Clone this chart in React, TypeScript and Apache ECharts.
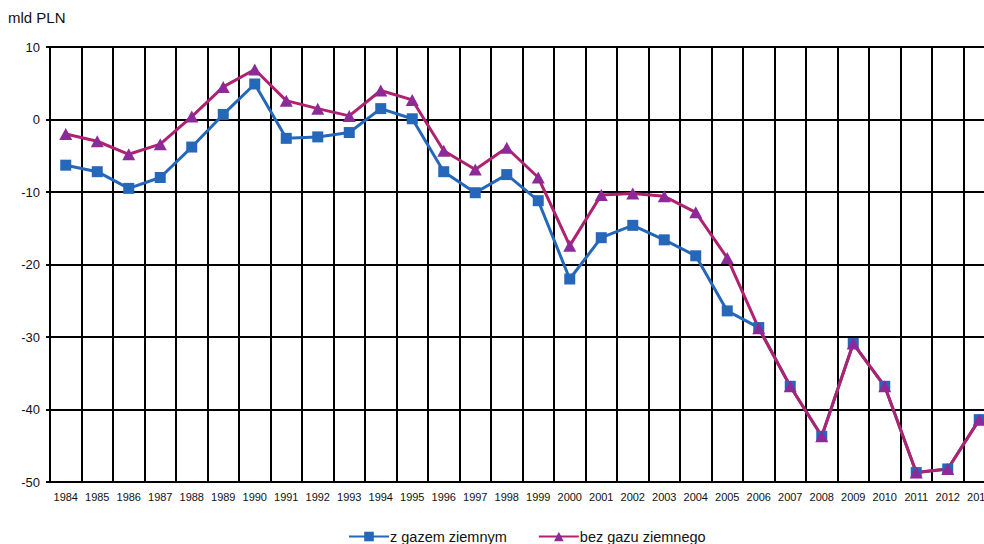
import React, { useEffect, useRef } from "react";
import * as echarts from "echarts";

const years = [
  "1984", "1985", "1986", "1987", "1988", "1989", "1990", "1991", "1992", "1993",
  "1994", "1995", "1996", "1997", "1998", "1999", "2000", "2001", "2002", "2003",
  "2004", "2005", "2006", "2007", "2008", "2009", "2010", "2011", "2012", "2013",
];

const zGazem = [
  -6.3, -7.2, -9.5, -8.0, -3.8, 0.7, 4.9, -2.6, -2.4, -1.8,
  1.5, 0.1, -7.2, -10.1, -7.6, -11.2, -22.0, -16.3, -14.6, -16.6,
  -18.8, -26.4, -28.7, -36.8, -43.7, -30.9, -36.8, -48.7, -48.2, -41.4,
];

const bezGazu = [
  -2.0, -3.0, -4.8, -3.4, 0.4, 4.5, 6.9, 2.6, 1.5, 0.5,
  4.0, 2.7, -4.3, -6.9, -3.9, -8.0, -17.4, -10.4, -10.2, -10.6,
  -12.8, -19.1, -28.8, -36.8, -43.7, -30.9, -36.8, -48.7, -48.2, -41.4,
];

const seriesNames = ["z gazem ziemnym", "bez gazu ziemnego"];
const unitLabel = "mld PLN";

export default function App() {
  const ref = useRef<HTMLDivElement>(null);

  useEffect(() => {
    if (!ref.current) return;
    const chart = echarts.init(ref.current, null, { renderer: "svg" });
    const font = "Liberation Sans, Arial, sans-serif";
    chart.setOption({
      animation: false,
      backgroundColor: "#ffffff",
      textStyle: { fontFamily: font },
      graphic: [
        {
          type: "text",
          left: 8,
          top: 10,
          style: { text: unitLabel, font: "15px " + font, fill: "#111" },
        },
      ],
      legend: {
        left: 343,
        top: 524,
        itemWidth: 40,
        itemHeight: 12,
        itemGap: 31,
        textStyle: { fontSize: 14.5, color: "#111", fontFamily: font, padding: [0, 0, 0, -4] },
        data: seriesNames,
      },
      grid: { left: 50, top: 47, width: 945, height: 435, containLabel: false },
      xAxis: {
        type: "category",
        data: years,
        boundaryGap: true,
        axisLine: { show: true, lineStyle: { color: "#000", width: 2 } },
        axisTick: { show: true, length: 4, lineStyle: { color: "#000", width: 2 }, interval: 0 },
        axisLabel: { interval: 0, fontSize: 11, color: "#111", margin: 9, fontFamily: font },
        splitLine: { show: true, interval: 0, lineStyle: { color: "#000", width: 2 } },
      },
      yAxis: {
        type: "value",
        min: -50,
        max: 10,
        interval: 10,
        axisLine: { show: true, lineStyle: { color: "#000", width: 2 } },
        axisTick: { show: true, length: 4, lineStyle: { color: "#000", width: 2 } },
        axisLabel: { fontSize: 13, color: "#111", margin: 10, fontFamily: font },
        splitLine: { show: true, lineStyle: { color: "#000", width: 2 } },
      },
      series: [
        {
          name: seriesNames[0],
          type: "line",
          data: zGazem,
          symbol: "rect",
          symbolSize: 11,
          itemStyle: { color: "#2567B9" },
          lineStyle: { color: "#2567B9", width: 3 },
        },
        {
          name: seriesNames[1],
          type: "line",
          data: bezGazu,
          symbol: "triangle",
          symbolSize: [13, 12],
          itemStyle: { color: "#8C2A98" },
          lineStyle: { color: "#B0226F", width: 3 },
        },
      ],
    });
    return () => chart.dispose();
  }, []);

  return (
    <div
      style={{
        position: "fixed",
        left: 0,
        top: 0,
        width: 984,
        height: 544,
        overflow: "hidden",
        background: "#fff",
      }}
    >
      <div ref={ref} style={{ width: 1010, height: 544 }} />
    </div>
  );
}
